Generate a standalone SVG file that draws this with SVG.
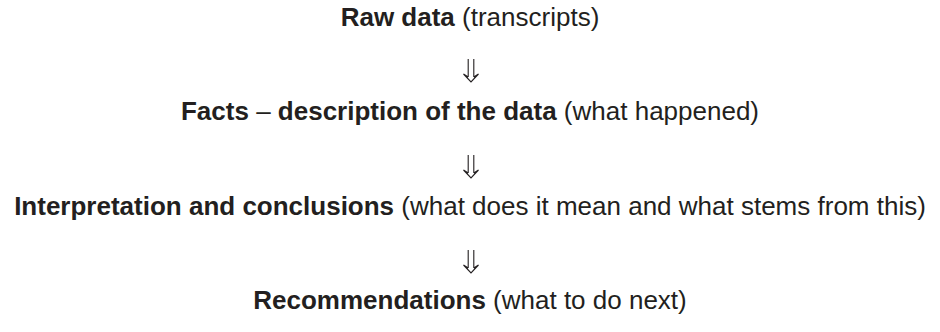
<svg xmlns="http://www.w3.org/2000/svg" width="940" height="332" viewBox="0 0 940 332">
<style>
text{font-family:"Liberation Sans",Arial,sans-serif;font-size:26px;fill:#231f20;text-anchor:middle}
.b{font-weight:bold}
.arr{fill:none;stroke:#231f20;stroke-width:1.1}
</style>
<defs>
<path id="dbl" class="arr" d="M-2.8,0 V18 M2.8,0 V18 M-7.5,15 L0,23 L7.5,15 M-2.8,18 L-7.5,15 M2.8,18 L7.5,15"/>
</defs>
<rect width="940" height="332" fill="#fff"/>
<g id="n1"><text x="470" y="26"><tspan class="b">Raw data</tspan> (transcripts)</text></g>
<g id="n2"><text x="470" y="120"><tspan class="b">Facts</tspan> – <tspan class="b">description of the data</tspan> (what happened)</text></g>
<g id="n3"><text x="470" y="215"><tspan class="b">Interpretation and conclusions</tspan> (what does it mean and what stems from this)</text></g>
<g id="n4"><text x="470" y="309"><tspan class="b">Recommendations</tspan> (what to do next)</text></g>
<g id="connectors">
<use href="#dbl" x="471" y="59"/>
<use href="#dbl" x="471" y="155"/>
<use href="#dbl" x="471" y="250"/>
</g>
</svg>
